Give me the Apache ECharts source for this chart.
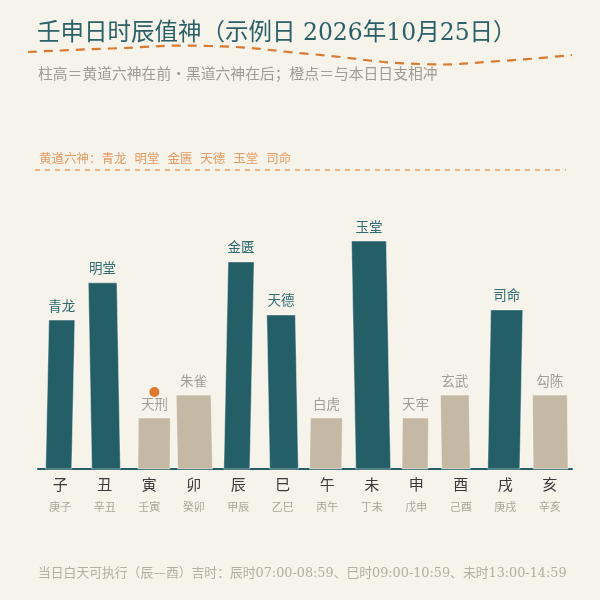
<!DOCTYPE html>
<html>
<head>
<meta charset="utf-8">
<script src="https://cdn.jsdelivr.net/npm/echarts@6/dist/echarts.min.js"></script>
<style>
  html, body { margin: 0; padding: 0; background: #f6f3eb; }
  #chart { width: 600px; height: 600px; }
</style>
</head>
<body>
<div id="chart"></div>
<script>
// 十二时辰
const branches = ["子", "丑", "寅", "卯", "辰", "巳", "午", "未", "申", "酉", "戌", "亥"];
const ganzhi = ["庚子", "辛丑", "壬寅", "癸卯", "甲辰", "乙巳", "丙午", "丁未", "戊申", "己酉", "庚戌", "辛亥"];
const gods = ["青龙", "明堂", "天刑", "朱雀", "金匮", "天德", "白虎", "玉堂", "天牢", "玄武", "司命", "勾陈"];
const heights = [2.92, 3.65, 1, 1.45, 4.06, 3.02, 1, 4.47, 1, 1.45, 3.12, 1.45];
const isYellow = [1, 1, 0, 0, 1, 1, 0, 1, 0, 0, 1, 0];
const clash = [0, 0, 1, 0, 0, 0, 0, 0, 0, 0, 0, 0];

// hand-drawn look (style only)
const barWidths = [26, 28.6, 32, 34.8];
const barShift = [0, -0.4, 4.9, 0.6, 0.7, -0.2, -1.2, -0.7, -1, -5.4, 0, 0.5];
const barSkew = [3.2, -3.5, 0.5, -1.5, 4.3, -3, 0.8, -4.3, 0.5, -1.3, 3, -0.8];

const TEAL = "#245e66";
const BEIGE = "#c5b9a5";
const ORANGE = "#d97a30";
const FONT = "'DejaVu Serif', 'Noto Sans CJK SC', serif";

const chart = echarts.init(document.getElementById("chart"));

chart.setOption({
  backgroundColor: "#f6f3eb",
  animation: false,
  title: [
    {
      text: "壬申日时辰值神（示例日 2026年10月25日）",
      left: 32, top: 17,
      textStyle: { fontFamily: FONT, fontSize: 23.5, fontWeight: "normal", color: "#2b6068" }
    },
    {
      text: "柱高＝黄道六神在前・黑道六神在后；橙点＝与本日日支相冲",
      left: 33, top: 63,
      textStyle: { fontFamily: FONT, fontSize: 14.8, fontWeight: "normal", color: "#9d9b94" }
    },
    {
      text: "黄道六神：青龙  明堂  金匮  天德  玉堂  司命",
      left: 34, top: 148,
      textStyle: { fontFamily: FONT, fontSize: 12.5, fontWeight: "normal", color: "#e39a62" }
    },
    {
      text: "当日白天可执行（辰—酉）吉时：辰时07:00-08:59、巳时09:00-10:59、未时13:00-14:59",
      left: 33, top: 562,
      textStyle: { fontFamily: FONT, fontSize: 12.8, fontWeight: "normal", color: "#b2aea3" }
    }
  ],
  graphic: [
    {
      type: "polyline",
      shape: {
        points: [[28, 52], [110, 48.5], [210, 46], [310, 54], [420, 64], [500, 61], [572, 55]],
        smooth: 0.5
      },
      style: { stroke: ORANGE, lineWidth: 2.2, lineDash: [9, 7], fill: null }
    },
    {
      type: "line",
      shape: { x1: 35, y1: 170, x2: 566, y2: 170 },
      style: { stroke: "#e4a06a", lineWidth: 1.5, lineDash: [5, 5] }
    }
  ],
  grid: { left: 38, right: 28, top: 214, bottom: 131 },
  xAxis: {
    type: "category",
    data: branches,
    axisLine: { lineStyle: { color: TEAL, width: 2 } },
    axisTick: { show: false },
    axisLabel: {
      interval: 0,
      margin: 6,
      formatter: (v, i) => "{a|" + v + "}\n{b|" + ganzhi[i] + "}",
      rich: {
        a: { fontFamily: FONT, fontSize: 15, color: "#3a3a3a", lineHeight: 22 },
        b: { fontFamily: FONT, fontSize: 11, color: "#a8a49a", lineHeight: 22 }
      }
    }
  },
  yAxis: { type: "value", min: 0, max: 5, show: false, splitLine: { show: false } },
  series: [
    {
      type: "custom",
      data: heights.map((h, i) => [i, h]),
      z: 1,
      renderItem(params, api) {
        const i = params.dataIndex;
        const base = api.coord([i, 0]);
        const top = api.coord([i, api.value(1)]);
        const w = barWidths[i % 4];
        const cx = base[0] + barShift[i];
        const sk = barSkew[i];
        const bx = cx - sk / 2, tx = cx + sk / 2;
        const yellow = isYellow[i] === 1;
        const children = [
          {
            type: "polygon",
            shape: { points: [[bx - w / 2, base[1]], [tx - w / 2, top[1]], [tx + w / 2, top[1]], [bx + w / 2, base[1]]] },
            style: { fill: yellow ? TEAL : BEIGE, stroke: "rgba(255,255,255,0.45)", lineWidth: 1 }
          },
          {
            type: "text",
            x: tx, y: top[1] - 13,
            style: {
              text: gods[i], align: "center", verticalAlign: "middle",
              font: "13.5px " + FONT, fill: yellow ? "#2f6a70" : "#a19e96"
            }
          }
        ];
        if (clash[i]) {
          children.push({
            type: "circle",
            shape: { cx: tx, cy: top[1] - 26, r: 5 },
            style: { fill: ORANGE }
          });
        }
        return { type: "group", children };
      }
    }
  ]
});
</script>
</body>
</html>
